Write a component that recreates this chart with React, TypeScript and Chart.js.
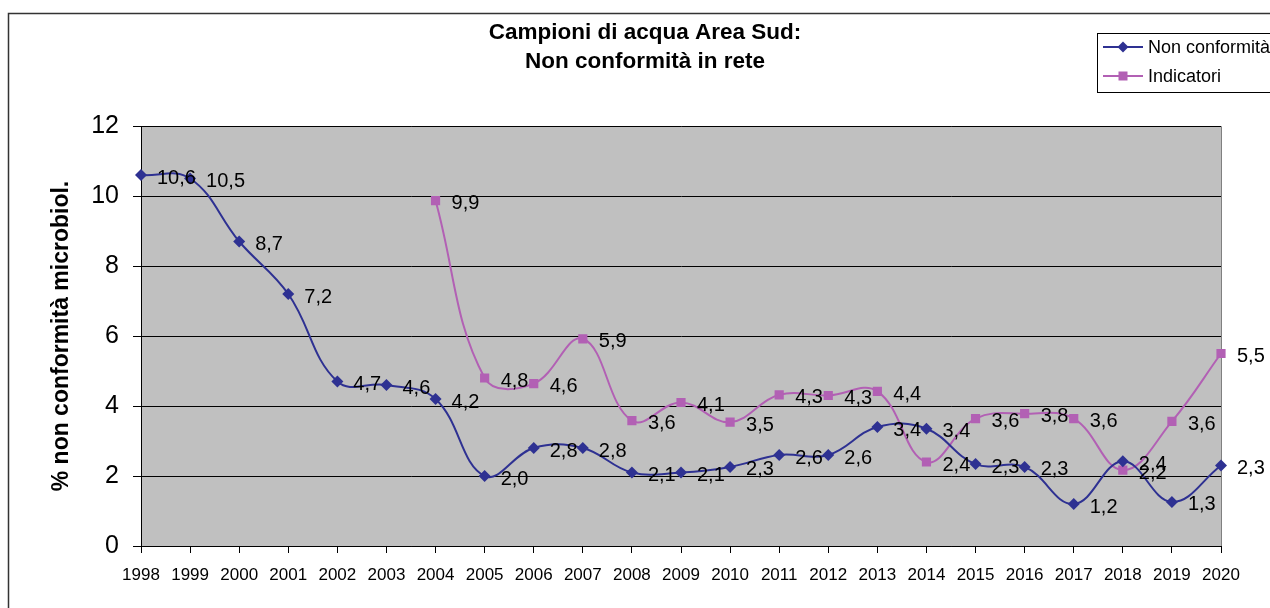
import React, { useEffect, useRef } from "react";
import { Chart, registerables } from "chart.js";

Chart.register(...registerables);

const years = ["1998","1999","2000","2001","2002","2003","2004","2005","2006","2007","2008","2009","2010","2011","2012","2013","2014","2015","2016","2017","2018","2019","2020"];
const nonConformita = [10.6,10.5,8.7,7.2,4.7,4.6,4.2,2.0,2.8,2.8,2.1,2.1,2.26,2.6,2.6,3.4,3.35,2.34,2.26,1.2,2.42,1.26,2.3];
const indicatori = [null,null,null,null,null,null,9.87,4.8,4.64,5.92,3.58,4.1,3.54,4.32,4.3,4.42,2.4,3.64,3.78,3.64,2.17,3.56,5.5];
const yTicks = [0,2,4,6,8,10,12];

const titleLines = ["Campioni di acqua Area Sud:", "Non conformità in rete"];
const yTitle = "% non conformità microbiol.";
const seriesNames = ["Non conformità", "Indicatori"];

const FONT = '"Liberation Sans", Arial, sans-serif';
const NAVY = "#2E3192";
const PINK = "#B260B4";

const fmt = (v: number) => v.toFixed(1).replace(".", ",");

const decorPlugin = {
  id: "decor",
  beforeDraw(chart: any) {
    const { ctx, chartArea: a } = chart;
    ctx.save();
    ctx.fillStyle = "#ffffff";
    ctx.fillRect(0, 0, chart.width, chart.height);
    ctx.strokeStyle = "#333333";
    ctx.lineWidth = 1.5;
    ctx.strokeRect(8.5, 13.5, 1400, 800);
    ctx.fillStyle = "#C0C0C0";
    ctx.fillRect(a.left, a.top, a.right - a.left, a.bottom - a.top);
    ctx.strokeStyle = "#808080";
    ctx.lineWidth = 1;
    ctx.beginPath();
    ctx.moveTo(a.left, a.top + 0.5);
    ctx.lineTo(a.right + 0.5, a.top + 0.5);
    ctx.lineTo(a.right + 0.5, a.bottom);
    ctx.stroke();
    ctx.restore();
  },
  afterDraw(chart: any) {
    const { ctx } = chart;
    ctx.save();
    // title
    ctx.fillStyle = "#000";
    ctx.font = `bold 22.5px ${FONT}`;
    ctx.textAlign = "center";
    ctx.textBaseline = "middle";
    ctx.fillText(titleLines[0], 645, 33);
    ctx.fillText(titleLines[1], 645, 62);
    // legend
    ctx.strokeStyle = "#000";
    ctx.lineWidth = 1;
    ctx.strokeRect(1097.5, 33.5, 220, 59);
    const rows = [
      { y: 47, color: NAVY, name: seriesNames[0], diamond: true },
      { y: 76, color: PINK, name: seriesNames[1], diamond: false },
    ];
    rows.forEach((r) => {
      ctx.strokeStyle = r.color;
      ctx.lineWidth = 2;
      ctx.beginPath();
      ctx.moveTo(1103, r.y);
      ctx.lineTo(1143, r.y);
      ctx.stroke();
      ctx.fillStyle = r.color;
      if (r.diamond) {
        ctx.beginPath();
        ctx.moveTo(1123, r.y - 5.5);
        ctx.lineTo(1128.5, r.y);
        ctx.lineTo(1123, r.y + 5.5);
        ctx.lineTo(1117.5, r.y);
        ctx.closePath();
        ctx.fill();
      } else {
        ctx.fillRect(1118.5, r.y - 4.5, 9, 9);
      }
      ctx.fillStyle = "#000";
      ctx.font = `18px ${FONT}`;
      ctx.textAlign = "left";
      ctx.fillText(r.name, 1148, r.y + 1);
    });
    ctx.restore();
  },
  afterDatasetsDraw(chart: any) {
    const { ctx } = chart;
    ctx.save();
    ctx.font = `20px ${FONT}`;
    ctx.fillStyle = "#000";
    ctx.textAlign = "left";
    ctx.textBaseline = "middle";
    chart.data.datasets.forEach((ds: any, i: number) => {
      const meta = chart.getDatasetMeta(i);
      meta.data.forEach((pt: any, j: number) => {
        const v = ds.data[j];
        if (v === null || v === undefined) return;
        ctx.fillText(fmt(v), pt.x + 16, pt.y + 3);
      });
    });
    ctx.restore();
  },
};

export default function App() {
  const ref = useRef<HTMLCanvasElement>(null);
  useEffect(() => {
    if (!ref.current) return;
    const chart = new Chart(ref.current, {
      type: "line",
      data: {
        labels: years,
        datasets: [
          {
            label: seriesNames[0],
            data: nonConformita,
            borderColor: NAVY,
            backgroundColor: NAVY,
            borderWidth: 2,
            tension: 0.4,
            pointStyle: "rectRot",
            pointRadius: 6,
            pointBorderWidth: 0,
          },
          {
            label: seriesNames[1],
            data: indicatori as any,
            borderColor: PINK,
            backgroundColor: PINK,
            borderWidth: 2,
            tension: 0.4,
            pointStyle: "rect",
            pointRadius: 6.5,
            pointBorderWidth: 0,
          },
        ],
      },
      options: {
        animation: false,
        responsive: false,
        devicePixelRatio: 1,
        layout: { padding: { top: 126, left: 44, right: 49, bottom: 10 } },
        plugins: {
          legend: { display: false },
          title: { display: false },
          tooltip: { enabled: false },
        },
        scales: {
          x: {
            type: "category",
            offset: false,
            grid: { display: true, drawOnChartArea: false, drawTicks: true, tickLength: 7, color: "#000" },
            border: { display: true, color: "#000", width: 1 },
            ticks: { color: "#000", font: { size: 17, family: FONT }, maxRotation: 0, autoSkip: false, padding: 12 },
            afterFit: (s: any) => { s.height = 52; },
          },
          y: {
            min: 0,
            max: 12,
            afterBuildTicks: (s: any) => { s.ticks = yTicks.map((v) => ({ value: v })); },
            grid: { color: "#000", lineWidth: 1, tickLength: 8 },
            border: { display: true, color: "#000", width: 1 },
            ticks: { color: "#000", font: { size: 25, family: FONT }, padding: 14 },
            title: { display: true, text: yTitle, color: "#000", font: { size: 23, weight: "bold", family: FONT }, padding: { top: 4, bottom: 4 } },
            afterFit: (s: any) => { s.width = 97; },
          },
        },
      },
      plugins: [decorPlugin],
    });
    return () => chart.destroy();
  }, []);
  return (
    <div style={{ position: "absolute", left: 0, top: 0, width: 1270, height: 608 }}>
      <canvas ref={ref} width={1270} height={608} style={{ width: 1270, height: 608 }} />
    </div>
  );
}
